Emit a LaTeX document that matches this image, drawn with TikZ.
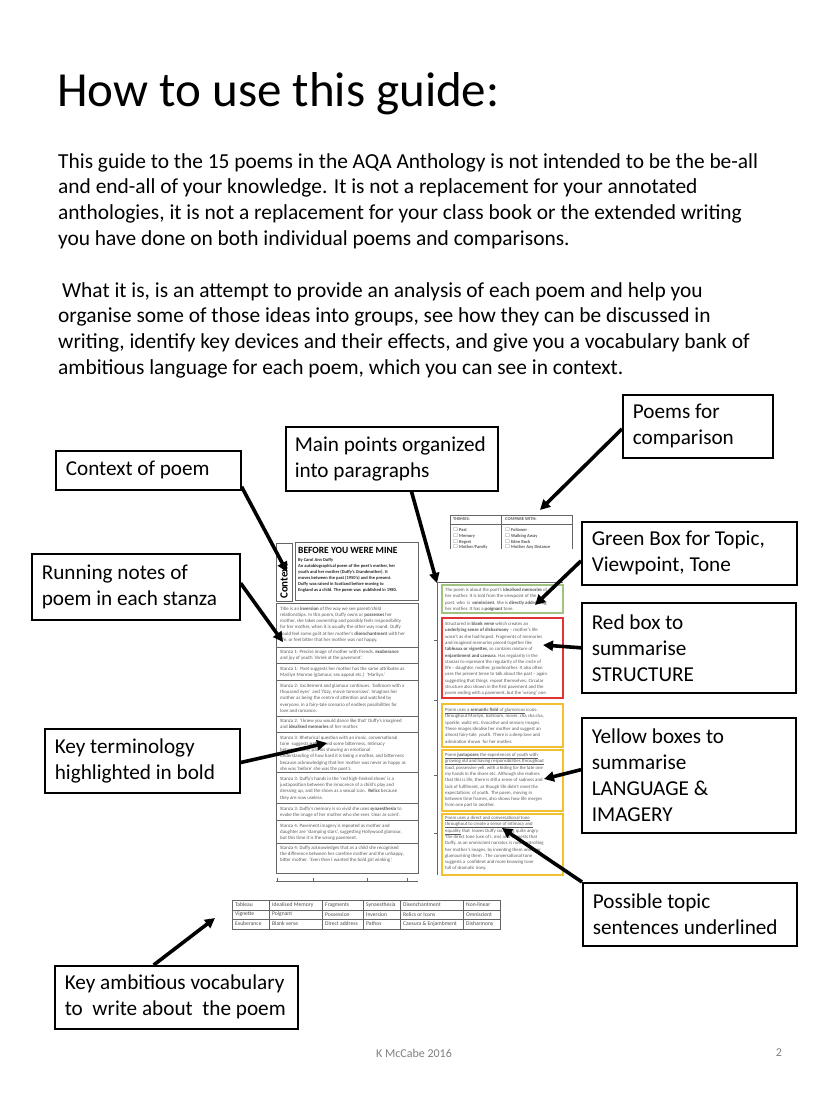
\documentclass[tikz,border=0pt]{standalone}
\usepackage{fontspec}
\usepackage{amssymb}
\setmainfont{Carlito}
\usetikzlibrary{arrows.meta}
\definecolor{boxgreen}{RGB}{160,196,125}
\definecolor{boxred}{RGB}{226,52,52}
\definecolor{boxyellow}{RGB}{243,192,48}
\newcommand{\callfont}{\fontsize{21.2}{26}\selectfont}
\newcommand{\notefont}{\fontsize{4.9}{6.1}\selectfont}
\newcommand{\boxfont}{\fontsize{4.8}{6.3}\selectfont}
\newcommand{\vocabfont}{\fontsize{5.6}{6}\selectfont}
\begin{document}
\begin{tikzpicture}[x=1pt, y=-1pt,
  call node/.style={draw, line width=1.6pt, anchor=north west, inner xsep=10pt, inner ysep=0pt, align=flush left, font=\callfont},
  note text/.style={anchor=north west, inner sep=0pt, align=left, font=\notefont, text=black!65},
  box text/.style={anchor=north west, inner sep=0pt, align=left, font=\boxfont, text=black!65},
  vocab text/.style={anchor=west, inner sep=0pt, font=\vocabfont, text=black!70},
  pointer/.style={line width=3.6pt, -{Triangle[length=10pt,width=10pt]}},
  thin rule/.style={line width=0.7pt, black!60}]
\useasboundingbox (0,0) rectangle (828,1104);

% heading and text
\node[anchor=base west, inner sep=0pt, font=\fontsize{49}{49}\selectfont] (title) at (57,106) {How to use this guide:};
\node[anchor=north west, inner sep=0pt, align=left, font=\fontsize{21.4}{25.7}\selectfont] (para1) at (58,153) {This guide to the 15 poems in the AQA Anthology is not intended to be the be-all\\
and end-all of your knowledge. It is not a replacement for your annotated\\
anthologies, it is not a replacement for your class book or the extended writing\\
you have done on both individual poems and comparisons.};
\node[anchor=north west, inner sep=0pt, align=left, font=\fontsize{21.4}{25.7}\selectfont] (para2) at (58,282) {\hspace*{4pt}What it is, is an attempt to provide an analysis of each poem and help you\\
organise some of those ideas into groups, see how they can be discussed in\\
writing, identify key devices and their effects, and give you a vocabulary bank of\\
ambitious language for each poem, which you can see in context.};

% miniature page, left column
\draw[thin rule] (276,543) rectangle (292,601);
\node[rotate=90, anchor=west, inner sep=0pt, font=\fontsize{11}{11}\selectfont\bfseries] (side) at (284,599) {Context};
\draw[thin rule] (295,542) rectangle (418,600);
\node[anchor=north west, inner sep=0pt, font=\fontsize{9.5}{10}\selectfont\bfseries] (poem) at (298,547) {BEFORE YOU WERE MINE};
\node[note text, font=\fontsize{4.5}{6}\selectfont\bfseries, text=black!85] (intro) at (298,558) {By Carol Ann Duffy\\
An autobiographical poem of the poet's mother, her\\
youth and her mother (Duffy's Grandmother). It\\
moves between the past (1950's) and the present.\\
Duffy was raised in Scotland before moving to\\
England as a child. The poem was\ \ published in 1980.};
\draw[thin rule] (276,603) rectangle (418,873);
\foreach \y in {647,663,680,716,732,772,803,820,843} \draw[thin rule] (276,\y) -- (418,\y);
\draw[thin rule] (276,881) -- (418,881);
\foreach \x in {277,313,367,407} \draw[thin rule] (\x,878) -- (\x,881);
\node[note text] (n0) at (280,607) {Title is an \textbf{inversion} of the way we see parent/child\\
relationships. In this poem, Duffy owns or \textbf{possesses} her\\
mother, she takes ownership and possibly feels responsibility\\
for her mother, when it is usually the other way round. Duffy\\
could feel some guilt at her mother's \textbf{disenchantment} with her\\
life, or feel bitter that her mother was not happy.};
\node[note text] (n1) at (280,650) {Stanza 1: Precise image of mother with friends, \textbf{exuberance}\\
and joy of youth `shriek at the pavement'.};
\node[note text] (n2) at (280,667) {Stanza 1:\ \ Poet suggests her mother has the same attributes as\\
Marilyn Monroe (glamour, sex appeal etc.)\ \ `Marilyn.'};
\node[note text] (n3) at (280,684) {Stanza 2:\ \ Excitement and glamour continues. `ballroom with a\\
thousand eyes'\ \ and `fizzy, movie tomorrows'. Imagines her\\
mother as being the centre of attention and watched by\\
everyone, in a fairy-tale scenario of endless possibilities for\\
love and romance.};
\node[note text] (n4) at (280,719) {Stanza 2: `I knew you would dance like that' Duffy's imagined\\
and \textbf{idealised memories} of her mother.};
\node[note text] (n5) at (280,736) {Stanza 3: Rhetorical question with an ironic, conversational\\
tone\ \ suggests \textbf{pathos} and some bitterness. Intimacy\\
between them, pathos showing an emotional\\
understanding of how hard it is being a mother, and bitterness\\
because acknowledging that her mother was never as happy as\\
she was `before' she was the poet's.};
\node[note text] (n6) at (280,777) {Stanza 3: Duffy's hands in the `red high-heeled shoes' is a\\
juxtaposition between the innocence of a child's play and\\
dressing up, and the shoes as a sexual icon.\ \ \textbf{Relics} because\\
they are now useless.};
\node[note text] (n7) at (280,807) {Stanza 3: Duffy's memory is so vivid she uses \textbf{synaesthesia} to\\
evoke the image of her mother who she sees `clear as scent'.};
\node[note text] (n8) at (280,824) {Stanza 4: Pavement imagery is repeated as mother and\\
daughter are `stamping stars', suggesting Hollywood glamour,\\
but this time it is the wrong pavement.};
\node[note text] (n9) at (280,846) {Stanza 4: Duffy acknowledges that as a child she recognised\\
the difference between her carefree mother and the unhappy,\\
bitter mother. `Even then I wanted the bold girl winking'.};

% miniature page, right column
\begin{scope}
\clip (449,514) rectangle (574,548);
\draw[thin rule] (450,515) rectangle (572,570);
\draw[thin rule] (450,524) -- (572,524);
\draw[thin rule] (501,515) -- (501,570);
\node[box text, font=\fontsize{4.5}{6}\selectfont\bfseries] (th) at (453,517) {THEMES:};
\node[box text, font=\fontsize{4.5}{6}\selectfont\bfseries] (cw) at (505,517) {COMPARE WITH:};
\node[box text, font=\fontsize{4.5}{5.7}\selectfont\bfseries] (th1) at (453,528) {$\square$ Past\\ $\square$ Memory\\ $\square$ Regret\\ $\square$ Mother/Family};
\node[box text, font=\fontsize{4.5}{5.7}\selectfont\bfseries] (cw1) at (505,528) {$\square$ Follower\\ $\square$ Walking Away\\ $\square$ Eden Rock\\ $\square$ Mother Any Distance};
\end{scope}
\draw[thin rule] (437,582) -- (563,582);
\draw[thin rule] (437,582) -- (437,875);
\foreach \y in {640,700,775,833} \draw[thin rule] (434,\y) -- (437,\y);
\draw[boxgreen, line width=1.2pt] (442,585) rectangle (563,613);
\node[box text] (g1) at (445,588) {The poem is about the poet's \textbf{idealised memories} of\\
her mother. It is told from the viewpoint of the\\
poet, who\ \ is\ \ \textbf{omniscient}. She is \textbf{directly addressing}\\
her mother. It has a \textbf{poignant} tone.};
\draw[boxred, line width=1.3pt] (442,618) rectangle (563,698);
\node[box text] (r1) at (445,622) {Structured in \textbf{blank verse} which creates an\\
\textbf{underlying sense of disharmony} -- mother's life\\
wasn't as she had hoped. Fragments of memories\\
and imagined memories pieced together like\\
\textbf{tableaux or vignettes}, so contains mixture of\\
\textbf{enjambment and caesura}. Has regularity in the\\
stanzas to represent the regularity of the circle of\\
life -- daughter, mother, grandmother. It also often\\
uses the present tense to talk about the past -- again\\
suggesting that things\ \ repeat themselves. Circular\\
structure also shown in the first pavement and the\\
poem ending with a pavement, but the `wrong' one.};
\draw[boxyellow, line width=2pt] (442,704) rectangle (563,747);
\node[box text] (y1) at (445,708) {\underline{Poem uses a \textbf{semantic field} of glamorous} icons:\\
throughout Marilyn, ballroom, movie, cha cha cha,\\
sparkle, waltz etc. Evocative and sensory images.\\
These images idealise her mother and suggest an\\
almost fairy-tale\ \ youth. There is a deep love and\\
admiration shown\ \ for her mother.};
\draw[boxyellow, line width=2pt] (442,750) rectangle (563,811);
\node[box text] (y2) at (445,753) {\underline{Poem \textbf{juxtaposes} the experiences of youth with}\\
\underline{growing old and having responsibilities throughout}\\
loud, possessive yell, with a hiding \textit{for the late one}\\
my hands in the shoes etc. Although she realises\\
that this is life, there is still a sense of sadness and\\
lack of fulfilment, as though life didn't meet the\\
expectations\ \ of youth. The poem, moving in\\
between time frames, also shows how life merges\\
from one part to another.};
\draw[boxyellow, line width=2pt] (442,814) rectangle (563,875);
\node[box text] (y3) at (445,816) {\underline{Poem uses a direct and conversational tone}\\
\underline{throughout to create a sense of intimacy and}\\
\underline{equality} that\ \ leaves Duffy sounding quite angry.\\
The direct tone (use of I, me) also suggests that\\
Duffy, as an omniscient narrator, is now controlling\\
her mother's images, by inventing them and over\\
glamourising them . The conversational tone\\
suggests a\ \ confident and more knowing tone\\
full of dramatic irony.};

% vocabulary table
\draw[thin rule] (232,900) rectangle (500,929);
\draw[thin rule] (232,910) -- (500,910);
\draw[thin rule] (232,919.5) -- (500,919.5);
\foreach \x in {269,322,363,400,463} \draw[thin rule] (\x,900) -- (\x,929);
\foreach \x/\a/\b/\c in {235/Tableau/Vignette/Exuberance, 272/Idealised Memory/Poignant/Blank verse,
  325/Fragments/Possession/Direct address, 366/Synaesthesia/Inversion/Pathos,
  403/Disenchantment/Relics or Icons/Caesura \& Enjambment, 466/Non-linear/Omniscient/Disharmony} {
  \node[vocab text] (a\x) at (\x,905) {\a};
  \node[vocab text] (b\x) at (\x,914.5) {\b};
  \node[vocab text] (c\x) at (\x,924) {\c};
}

% callouts
\node[call node, minimum width=185pt, minimum height=39pt, text width=165pt] (c1) at (55,450) {Context of poem};
\node[call node, inner xsep=9pt, minimum width=212pt, minimum height=64pt, text width=194pt] (c2) at (285,426) {Main points organized\\into paragraphs};
\node[call node, minimum width=150pt, minimum height=63pt, text width=130pt] (c3) at (622,394) {Poems for\\comparison};
\node[call node, minimum width=208pt, minimum height=66pt, text width=188pt] (c4) at (31,553) {Running notes of\\poem in each stanza};
\node[call node, minimum width=215pt, minimum height=63pt, text width=195pt] (c5) at (581,521) {Green Box for Topic,\\Viewpoint, Tone};
\node[call node, minimum width=214pt, minimum height=90pt, text width=194pt] (c6) at (581,602) {Red box to\\summarise\\STRUCTURE};
\node[call node, minimum width=195pt, minimum height=64pt, text width=175pt] (c7) at (44,728) {Key terminology\\highlighted in bold};
\node[call node, minimum width=214pt, minimum height=115pt, text width=194pt] (c8) at (581,717) {Yellow boxes to\\summarise\\LANGUAGE \&\\IMAGERY};
\node[call node, minimum width=214pt, minimum height=63pt, text width=194pt] (c9) at (582,882) {Possible topic\\sentences underlined};
\node[call node, minimum width=243pt, minimum height=63pt, text width=223pt] (c10) at (54,965) {Key ambitious vocabulary\\to\ \ write about\ \ the poem};

% arrow tips
\coordinate (t1) at (287,572);
\coordinate (t2) at (437,583);
\coordinate (t3) at (540,510);
\coordinate (t4) at (283,642);
\coordinate (t5) at (535,605);
\coordinate (t6) at (543,645);
\coordinate (t7) at (327,743);
\coordinate (t8) at (544,779);
\coordinate (t9) at (502,828);
\coordinate (t10) at (215,918);
\draw[pointer] (c1.-10) -- (t1);
\draw[pointer] (c2.-59) -- (t2);
\draw[pointer] (c3.182) -- (t3);
\draw[pointer] (c4.2) -- (t4);
\draw[pointer] (c5.184) -- (t5);
\draw[pointer] (c6.west) -- (t6);
\draw[pointer] (c7.-1) -- (t7);
\draw[pointer] (c8.177) -- (t8);
\draw[pointer] (c9.north west) -- (t9);
\draw[pointer] (c10.125) -- (t10);

% footer
\node[inner sep=0pt, font=\fontsize{12}{12}\selectfont, text=black!50] (foot) at (414,1053) {K McCabe 2016};
\node[inner sep=0pt, font=\fontsize{12}{12}\selectfont, text=black!50] (page) at (779,1053) {2};
\end{tikzpicture}
\end{document}
